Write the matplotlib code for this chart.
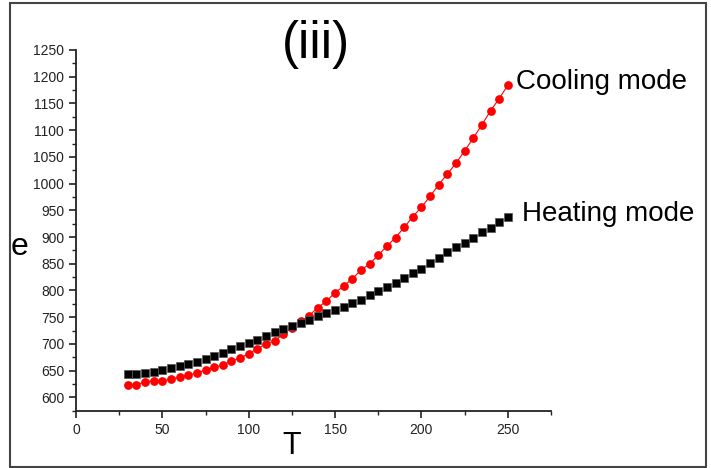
import matplotlib
matplotlib.use('Agg')
import matplotlib.pyplot as plt
from matplotlib.patches import Rectangle
from matplotlib.ticker import MultipleLocator
import numpy as np

# temperature steps, 30 .. 250
T = list(range(30, 255, 5))

heating = [644, 643, 646, 647, 651, 655, 658, 663, 666, 672,
           677, 683, 690, 696, 701, 708, 714, 722, 727, 733,
           739, 745, 753, 758, 764, 769, 777, 783, 792, 799,
           806, 814, 823, 833, 841, 851, 861, 872, 882, 888,
           899, 909, 917, 928, 938]

cooling = [623, 624, 629, 631, 631, 634, 638, 641, 646, 651,
           656, 661, 668, 673, 682, 691, 700, 706, 718, 730,
           742, 753, 768, 780, 796, 808, 822, 838, 850, 866,
           883, 899, 918, 938, 956, 976, 998, 1018, 1038, 1061,
           1085, 1110, 1136, 1159, 1184]

plt.rcParams['font.family'] = ['Liberation Sans', 'DejaVu Sans']
axcol = '#222222'

fig = plt.figure(figsize=(7.11, 4.68), dpi=100)
ax = fig.add_axes([0.1069, 0.1224, 0.668, 0.7708])

ax.plot(T, cooling, '-o', color='red', lw=0.8, markersize=6.3, markeredgewidth=0)
ax.plot(T, heating, 's', color='black', markersize=5.4, markeredgewidth=0.5,
        markeredgecolor='#555555')

ax.set_xlim(0, 275)
ax.set_ylim(575, 1250)
ax.xaxis.set_major_locator(MultipleLocator(50))
ax.xaxis.set_minor_locator(MultipleLocator(25))
ax.yaxis.set_major_locator(MultipleLocator(50))
ax.yaxis.set_minor_locator(MultipleLocator(25))
ax.set_yticks(range(600, 1251, 50))

for s in ['top', 'right']:
    ax.spines[s].set_visible(False)
for s in ['left', 'bottom']:
    ax.spines[s].set_color(axcol)
    ax.spines[s].set_linewidth(1.3)
ax.tick_params(which='major', direction='out', length=5, width=1.2,
               color=axcol, labelsize=10, labelcolor=axcol)
ax.tick_params(which='minor', direction='out', length=3, width=1.0, color=axcol)

ax.set_xlabel('T', fontsize=22, labelpad=-2)
ax.xaxis.set_label_coords(0.455, -0.055)
ax.set_ylabel('e', fontsize=23, rotation=0, va='center', ha='center')
ax.yaxis.set_label_coords(-0.118, 0.455)

ax.text(255, 1190, 'Cooling mode', fontsize=20, va='center', ha='left', clip_on=False)
ax.text(258, 944, 'Heating mode', fontsize=20, va='center', ha='left', clip_on=False)
fig.text(0.445, 0.905, '(iii)', fontsize=37, ha='center', va='center')

# outer frame
fig.patches.append(Rectangle((10 / 711, 1 / 468), 696 / 711, 464 / 468,
                             transform=fig.transFigure, fill=False,
                             edgecolor='#444444', lw=1.5))

plt.savefig('out.png', dpi=100)
